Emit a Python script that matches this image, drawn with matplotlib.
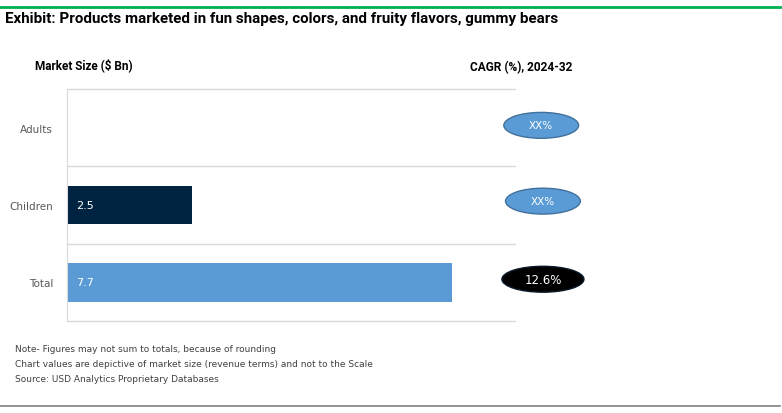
import matplotlib
matplotlib.use("Agg")
import matplotlib.pyplot as plt
from matplotlib.patches import Ellipse

categories = ["Adults", "Children", "Total"]
values = [None, 2.5, 7.7]
bar_colors = ["#5b9bd5", "#002341", "#5b9bd5"]
cagr_labels = ["XX%", "XX%", "12.6%"]
cagr_colors = ["#5b9bd5", "#5b9bd5", "#000000"]
cagr_edges = ["#41719c", "#41719c", "#0a1a2a"]

W, H = 782, 414
fig = plt.figure(figsize=(W / 100, H / 100), dpi=100)
fig.patch.set_facecolor("white")

def fx(px):
    return px / W

def fy(py):
    return 1 - py / H

# main axes
ax = fig.add_axes([fx(67), fy(322), fx(515 - 67), (322 - 90) / H])
ypos = list(range(len(categories)))
for i, (v, c) in enumerate(zip(values, bar_colors)):
    if v is not None:
        ax.barh(i, v, height=0.5, color=c)
        ax.text(0.18, i, f"{v}", color="white", va="center", ha="left", fontsize=8)
ax.set_ylim(2.5, -0.5)
ax.set_xlim(0, 8.95)
for b in [-0.5, 0.5, 1.5, 2.5]:
    ax.axhline(b, color="#d9d9d9", lw=1, zorder=0, clip_on=False)
for s in ["top", "right", "bottom"]:
    ax.spines[s].set_visible(False)
ax.spines["left"].set_color("#d9d9d9")
ax.set_xticks([])
ax.set_yticks(ypos)
ax.set_yticklabels(categories, fontsize=7.5, color="#595959")
ax.tick_params(axis="y", length=0, pad=10)

# CAGR ellipses
ax2 = fig.add_axes([fx(500), fy(322), fx(85), (322 - 90) / H])
ax2.set_xlim(0, 1)
ax2.set_ylim(2.5, -0.5)
ax2.axis("off")
widths = [0.88, 0.88, 0.965]
offs = [-0.03, -0.05, -0.04]
xc = [0.485, 0.505, 0.505]
for i, (lab, fc, ec) in enumerate(zip(cagr_labels, cagr_colors, cagr_edges)):
    e = Ellipse((xc[i], i + offs[i]), widths[i], 0.335, facecolor=fc, edgecolor=ec, lw=1)
    ax2.add_patch(e)
    ax2.text(xc[i], i + offs[i], lab, color="white", ha="center", va="center",
             fontsize=8.5 if i == 2 else 7.5)

# decorations
fig.add_artist(plt.Line2D([0, fx(780)], [fy(8), fy(8)], color="#00b050", lw=2))
fig.add_artist(plt.Line2D([0, fx(780)], [fy(407), fy(407)], color="#808080", lw=1.2))

fig.text(fx(5), fy(19), "Exhibit: Products marketed in fun shapes, colors, and fruity flavors, gummy bears",
         fontsize=10.9, fontweight="bold", family="Roboto", ha="left", va="center", color="#000000")
fig.text(fx(35), fy(65), "Market Size ($ Bn)", fontsize=8.5, fontweight="bold", family="Roboto",
         ha="left", va="center")
fig.text(fx(470), fy(68), "CAGR (%), 2024-32", fontsize=8.6, fontweight="bold", family="Roboto",
         ha="left", va="center")

notes = ["Note- Figures may not sum to totals, because of rounding",
         "Chart values are depictive of market size (revenue terms) and not to the Scale",
         "Source: USD Analytics Proprietary Databases"]
for k, n in enumerate(notes):
    fig.text(fx(15), fy(350 + 15 * k), n, fontsize=6.5, color="#404040", ha="left", va="center")

fig.savefig("out.png", dpi=100)
